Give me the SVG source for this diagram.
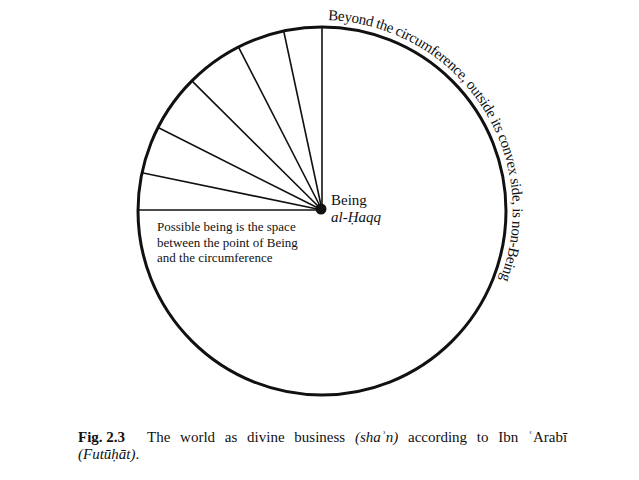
<svg xmlns="http://www.w3.org/2000/svg" width="639" height="480" viewBox="0 0 639 480">
<style>
.t{font-family:"Liberation Serif","Times New Roman",serif;fill:#111}
.r{stroke:#111;stroke-width:1.6;fill:none;stroke-linecap:round}
</style>
<defs>
<path id="arcPath" d="M 328 20.1 A 191 191 0 0 1 322 402"/>
</defs>
<rect width="639" height="480" fill="#fff"/>
<g id="circle">
<circle cx="322" cy="211" r="184" fill="none" stroke="#111" stroke-width="3"/>
</g>
<g id="connectors">
<line class="r" x1="322" y1="210" x2="322" y2="27"/>
<line class="r" x1="322" y1="210" x2="283.7" y2="31"/>
<line class="r" x1="322" y1="210" x2="238.5" y2="47.1"/>
<line class="r" x1="322" y1="210" x2="191.9" y2="80.9"/>
<line class="r" x1="322" y1="210" x2="158.1" y2="127.5"/>
<line class="r" x1="322" y1="210" x2="142" y2="172.7"/>
<line class="r" x1="322" y1="210" x2="138" y2="210"/>
</g>
<g id="being">
<circle cx="321" cy="209" r="5.5" fill="#111"/>
<text class="t" x="331" y="204.5" font-size="15">Being</text>
<text class="t" x="331" y="221.5" font-size="15" font-style="italic">al-Ḥaqq</text>
</g>
<g id="possible">
<text class="t" font-size="13"><tspan x="157" y="231">Possible being is the space</tspan><tspan x="157" y="246.5">between the point of Being</tspan><tspan x="157" y="262">and the circumference</tspan></text>
</g>
<g id="beyond">
<text class="t" font-size="15" textLength="364" lengthAdjust="spacing"><textPath href="#arcPath">Beyond the circumference, outside its convex side, is non-Being</textPath></text>
</g>
<g id="caption">
<text class="t" x="78" y="442" font-size="15" font-weight="bold">Fig. 2.3</text>
<text class="t" x="147" y="442" font-size="15" word-spacing="6">The world as divine business <tspan font-style="italic">(shaʾn)</tspan> according to Ibn ʿArabī</text>
<text class="t" x="78" y="459" font-size="15" font-style="italic">(Futūḥāt)<tspan font-style="normal">.</tspan></text>
</g>
</svg>
